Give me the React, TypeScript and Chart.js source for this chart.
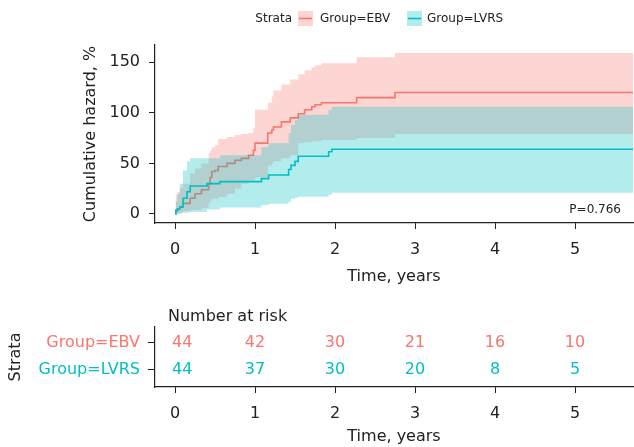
import React, { useEffect, useRef } from 'react';
import { Chart, registerables } from 'chart.js';

Chart.register(...registerables);

// ---------- data ----------
const EBV_COLOR = '#F8766D';
const LVRS_COLOR = '#00BFC4';
const EBV_BAND = 'rgba(248,118,109,0.3)';
const LVRS_BAND = 'rgba(0,191,196,0.3)';

const lastTime = 5.73;

const ebvTime = [0, 0.01, 0.03, 0.06, 0.1, 0.19, 0.25, 0.33, 0.42, 0.44, 0.46, 0.5, 0.54, 0.65, 0.75, 0.83, 0.92, 0.98, 1.0, 1.16, 1.21, 1.23, 1.33, 1.44, 1.54, 1.62, 1.71, 1.75, 1.83, 2.27, 2.75];
const ebvEst = [0, 4, 5, 7, 10.5, 15.5, 20, 24, 30, 36, 42, 43, 47, 50, 53, 55, 58, 63, 70, 80, 83, 86, 91, 95, 99, 103, 106, 108, 110, 115, 120];
const ebvLower = [0, 0.5, 1, 1.5, 3, 4, 4, 6, 11, 13, 15, 15, 17, 20, 25, 30, 33, 33, 36, 48, 50, 52, 55, 58, 70, 71, 72, 72, 73, 75, 79];
const ebvUpper = [0, 19, 22, 26, 30, 40, 45, 50, 60, 63, 66, 68, 74, 76, 78, 79, 80, 85, 103, 110, 116, 122, 128, 133, 138, 142, 145, 147, 149, 155, 159];

const lvrsTime = [0, 0.01, 0.03, 0.06, 0.1, 0.15, 0.19, 0.4, 0.56, 1.08, 1.17, 1.42, 1.45, 1.5, 1.54, 1.92, 1.96];
const lvrsEst = [0, 3, 5, 7, 15.5, 22, 27.6, 30, 32, 35, 38.5, 44, 48, 52, 57, 61.5, 64];
const lvrsLower = [0, 0, 0, 0.5, 1, 1.5, 2, 4.5, 6.5, 9, 10, 12, 15, 16, 17, 19, 21];
const lvrsUpper = [0, 12, 20, 30, 43, 52, 55, 55, 58, 66, 70, 80, 88, 93, 98, 103, 106];

const xTicks = [0, 1, 2, 3, 4, 5];
const yTicks = [0, 50, 100, 150];

const riskTimes = [0, 1, 2, 3, 4, 5];
const ebvRisk = [44, 42, 30, 21, 16, 10];
const lvrsRisk = [44, 37, 30, 20, 8, 5];
const strataNames = ['Group=EBV', 'Group=LVRS'];
const pValueText = 'P=0.766';

// ---------- helpers ----------
const FONT = "'DejaVu Sans', sans-serif";
const INK = '#222222';

function steps(times: number[], vals: number[], end: number) {
  const pts: { x: number; y: number }[] = [];
  for (let i = 0; i < times.length; i++) {
    if (i > 0) pts.push({ x: times[i], y: vals[i - 1] });
    pts.push({ x: times[i], y: vals[i] });
  }
  pts.push({ x: end, y: vals[vals.length - 1] });
  return pts;
}

function xScaleOpts(height: number, titlePadBottom: number) {
  return {
    type: 'linear' as const,
    min: -0.25,
    max: 5.725,
    afterBuildTicks: (s: any) => {
      s.ticks = xTicks.map((v) => ({ value: v }));
    },
    afterFit: (s: any) => {
      s.height = height;
    },
    ticks: {
      color: INK,
      font: { family: FONT, size: 16 },
      padding: 11,
      maxRotation: 0,
      autoSkip: false,
    },
    grid: { drawOnChartArea: false, drawTicks: true, tickLength: 6, color: INK, lineWidth: 1 },
    border: { color: INK, width: 1.2 },
    title: {
      display: true,
      text: 'Time, years',
      color: INK,
      font: { family: FONT, size: 16 },
      padding: { top: 0, bottom: titlePadBottom },
    },
  };
}

function MainChart() {
  const ref = useRef<HTMLCanvasElement | null>(null);
  useEffect(() => {
    if (!ref.current) return;
    const lineDs = (label: string, data: any, color: string, order: number) => ({
      label,
      data,
      borderColor: color,
      borderWidth: 1.6,
      pointRadius: 0,
      fill: false,
      tension: 0,
      order,
    });
    const bandDs = (label: string, data: any, fill: any, bg: string, order: number) => ({
      label,
      data,
      borderColor: 'transparent',
      borderWidth: 0,
      backgroundColor: bg,
      pointRadius: 0,
      fill,
      tension: 0,
      order,
    });
    const legendPlugin = {
      id: 'kmLegend',
      afterDraw(chart: any) {
        const ctx = chart.ctx;
        ctx.save();
        ctx.font = `12px ${FONT}`;
        ctx.fillStyle = INK;
        ctx.textBaseline = 'middle';
        ctx.textAlign = 'right';
        ctx.fillText('Strata', 292, 19);
        const items = [
          { bx: 298, tx: 320, color: EBV_COLOR, band: EBV_BAND, label: strataNames[0] },
          { bx: 407, tx: 427, color: LVRS_COLOR, band: LVRS_BAND, label: strataNames[1] },
        ];
        for (const it of items) {
          ctx.fillStyle = it.band;
          ctx.fillRect(it.bx, 11, 15, 15);
          ctx.strokeStyle = it.color;
          ctx.lineWidth = 1.6;
          ctx.beginPath();
          ctx.moveTo(it.bx + 1, 18.5);
          ctx.lineTo(it.bx + 14, 18.5);
          ctx.stroke();
          ctx.fillStyle = INK;
          ctx.textAlign = 'left';
          ctx.fillText(it.label, it.tx, 19);
        }
        // p-value
        const area = chart.chartArea;
        ctx.textAlign = 'right';
        ctx.fillText(pValueText, area.right - 12, area.bottom - 13.5);
        ctx.restore();
      },
    };
    const chart = new Chart(ref.current, {
      type: 'line',
      data: {
        datasets: [
          lineDs('Group=LVRS', steps(lvrsTime, lvrsEst, lastTime), LVRS_COLOR, 0),
          bandDs('LVRS upper', steps(lvrsTime, lvrsUpper, lastTime), 2, LVRS_BAND, 1),
          bandDs('LVRS lower', steps(lvrsTime, lvrsLower, lastTime), false, LVRS_BAND, 2),
          lineDs('Group=EBV', steps(ebvTime, ebvEst, lastTime), EBV_COLOR, 3),
          bandDs('EBV upper', steps(ebvTime, ebvUpper, lastTime), 5, EBV_BAND, 4),
          bandDs('EBV lower', steps(ebvTime, ebvLower, lastTime), false, EBV_BAND, 5),
        ] as any,
      },
      options: {
        animation: false,
        responsive: false,
        maintainAspectRatio: false,
        layout: { padding: { top: 45, right: 1, left: 0, bottom: 0 } },
        plugins: { legend: { display: false }, tooltip: { enabled: false } },
        scales: {
          x: xScaleOpts(67, 3.5) as any,
          y: {
            type: 'linear',
            min: -8.9,
            max: 167,
            afterBuildTicks: (s: any) => {
              s.ticks = yTicks.map((v) => ({ value: v }));
            },
            afterFit: (s: any) => {
              s.width = 155;
            },
            ticks: { color: INK, font: { family: FONT, size: 16 }, padding: 9 },
            grid: { drawOnChartArea: false, drawTicks: true, tickLength: 6, color: INK, lineWidth: 1 },
            border: { color: INK, width: 1.2 },
            title: {
              display: true,
              text: 'Cumulative hazard, %',
              color: INK,
              font: { family: FONT, size: 16 },
              padding: { top: 81, bottom: 0 },
            },
          } as any,
        },
      },
      plugins: [legendPlugin],
    });
    return () => chart.destroy();
  }, []);
  return <canvas ref={ref} width={634} height={290} style={{ display: 'block', width: 634, height: 290 }} />;
}

function RiskTable() {
  const ref = useRef<HTMLCanvasElement | null>(null);
  useEffect(() => {
    if (!ref.current) return;
    const rows = [
      { y: 2, vals: ebvRisk, color: EBV_COLOR },
      { y: 1, vals: lvrsRisk, color: LVRS_COLOR },
    ];
    const riskPlugin = {
      id: 'riskText',
      afterDraw(chart: any) {
        const ctx = chart.ctx;
        const xs = chart.scales.x;
        const ys = chart.scales.y;
        const left = chart.chartArea.left;
        ctx.save();
        ctx.font = `16px ${FONT}`;
        ctx.textBaseline = 'middle';
        ctx.textAlign = 'center';
        for (const r of rows) {
          ctx.fillStyle = r.color;
          r.vals.forEach((v, i) => {
            const s = String(v);
            const w = ctx.measureText(s).width;
            // keep labels clear of the axis line
            const px = Math.max(xs.getPixelForValue(riskTimes[i]), left + 17 + w / 2);
            ctx.fillText(s, px, ys.getPixelForValue(r.y));
          });
        }
        ctx.fillStyle = INK;
        ctx.textAlign = 'left';
        ctx.fillText('Number at risk', left + 13, 27);
        ctx.restore();
      },
    };
    const chart = new Chart(ref.current, {
      type: 'line',
      data: { datasets: [{ label: 'none', data: [], pointRadius: 0 }] },
      options: {
        animation: false,
        responsive: false,
        maintainAspectRatio: false,
        layout: { padding: { top: 37, right: 1, left: 0, bottom: 0 } },
        plugins: { legend: { display: false }, tooltip: { enabled: false } },
        scales: {
          x: xScaleOpts(60, 1) as any,
          y: {
            type: 'linear',
            min: 0.37,
            max: 2.59,
            afterBuildTicks: (s: any) => {
              s.ticks = [1, 2].map((v) => ({ value: v }));
            },
            afterFit: (s: any) => {
              s.width = 155;
            },
            ticks: {
              font: { family: FONT, size: 16 },
              padding: 8,
              color: (c: any) => (c.tick && c.tick.value === 2 ? EBV_COLOR : LVRS_COLOR),
              callback: (v: any) => (v === 2 ? strataNames[0] : strataNames[1]),
            },
            grid: { drawOnChartArea: false, drawTicks: true, tickLength: 7, color: INK, lineWidth: 1 },
            border: { color: INK, width: 1.2 },
            title: {
              display: true,
              text: 'Strata',
              color: INK,
              font: { family: FONT, size: 16 },
              padding: { top: 6, bottom: 0 },
            },
          } as any,
        },
      },
      plugins: [riskPlugin],
    });
    return () => chart.destroy();
  }, []);
  return <canvas ref={ref} width={634} height={157} style={{ display: 'block', width: 634, height: 157 }} />;
}

export default function App() {
  return (
    <div style={{ position: 'fixed', left: 0, top: 0, width: 634, height: 447, background: '#fff' }}>
      <MainChart />
      <RiskTable />
    </div>
  );
}
